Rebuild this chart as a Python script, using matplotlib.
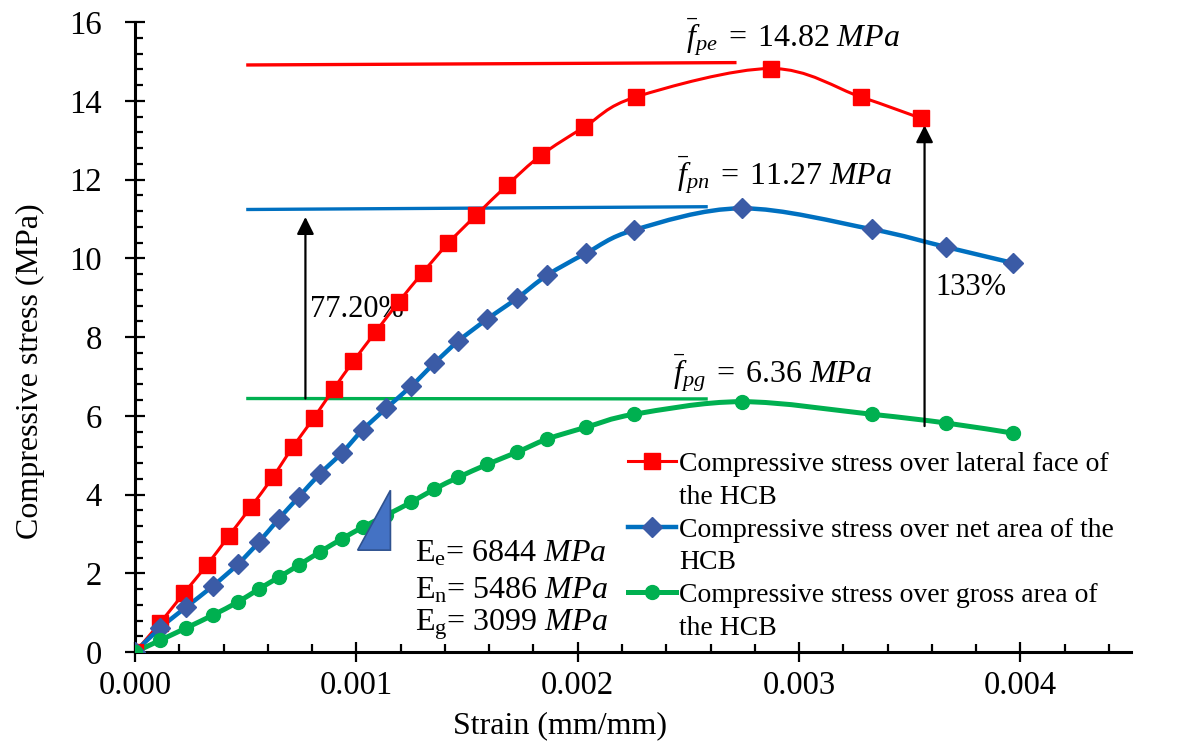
import numpy as np
import matplotlib
matplotlib.use("Agg")
import matplotlib.pyplot as plt
from matplotlib.path import Path
from matplotlib.patches import PathPatch
from matplotlib.lines import Line2D
from matplotlib.ticker import MultipleLocator, StrMethodFormatter

plt.rcParams['font.family'] = ['Liberation Serif', 'DejaVu Serif']
plt.rcParams['mathtext.fontset'] = 'custom'
plt.rcParams['mathtext.rm'] = 'Liberation Serif'
plt.rcParams['mathtext.it'] = 'Liberation Serif:italic'

# strain / stress readings
strain_e = [0, 0.000113, 0.000221, 0.000325, 0.000424, 0.000523, 0.000622, 0.000713,
            0.000807, 0.000897, 0.000987, 0.001087, 0.001191, 0.001299, 0.001416,
            0.001542, 0.001682, 0.001835, 0.002029, 0.002264, 0.002873, 0.003278, 0.003549]
stress_e = [0, 0.74, 1.50, 2.21, 2.95, 3.68, 4.44, 5.21, 5.94, 6.68, 7.39, 8.13, 8.89,
            9.63, 10.39, 11.10, 11.86, 12.62, 13.33, 14.10, 14.82, 14.10, 13.56]

strain_n = [0, 0.000113, 0.000230, 0.000352, 0.000464, 0.000559, 0.000649, 0.000740,
            0.000834, 0.000933, 0.001028, 0.001136, 0.001249, 0.001353, 0.001461,
            0.001592, 0.001727, 0.001862, 0.002038, 0.002255, 0.002742, 0.003328,
            0.003662, 0.003968]
stress_n = [0, 0.61, 1.14, 1.68, 2.23, 2.79, 3.38, 3.94, 4.52, 5.05, 5.64, 6.20, 6.76,
            7.34, 7.90, 8.46, 8.99, 9.57, 10.13, 10.72, 11.27, 10.74, 10.29, 9.88]
stress_g = [0, 0.30, 0.61, 0.94, 1.27, 1.60, 1.90, 2.21, 2.54, 2.87, 3.17, 3.48, 3.81,
            4.14, 4.44, 4.77, 5.08, 5.41, 5.71, 6.04, 6.36, 6.04, 5.82, 5.56]

labels = ["Compressive stress over lateral face of\nthe HCB",
          "Compressive stress over net area of the\nHCB",
          "Compressive stress over gross area of\nthe HCB"]

# peak reference lines
peak_x = [[0.00051, 0.00271], [0.00051, 0.00258], [0.00051, 0.00258]]
peak_y = [[14.91, 14.97], [11.24, 11.31], [6.44, 6.43]]
peak_text = [r"$\bar{f}_{pe}\;=\;14.82\ MPa$", r"$\bar{f}_{pn}\;=\;11.27\ MPa$",
             r"$\bar{f}_{pg}\;=\;6.36\ MPa$"]
peak_text_pos = [(0.00249, 15.62), (0.00245, 12.11), (0.00243, 7.09)]

modulus_text = [r"E$_{\rm e}$= 6844 $MPa$", r"E$_{\rm n}$= 5486 $MPa$",
                r"E$_{\rm g}$= 3099 $MPa$"]
modulus_y = [2.51, 1.57, 0.69]
tri_x = [0.001006, 0.001154, 0.001154]
tri_y = [2.59, 4.11, 2.59]

red = '#FF0000'
blue = '#0070C0'
blue_mk = '#3B5BA6'
green = '#00B050'


def smooth_path(x, y):
    pts = np.column_stack([x, y])
    n = len(pts)
    verts = [pts[0]]
    codes = [Path.MOVETO]
    for i in range(n - 1):
        p0 = pts[i - 1] if i > 0 else pts[i]
        p1 = pts[i]
        p2 = pts[i + 1]
        p3 = pts[i + 2] if i + 2 < n else pts[i + 1]
        verts += [p1 + (p2 - p0) / 6, p2 - (p3 - p1) / 6, p2]
        codes += [Path.CURVE4] * 3
    return Path(verts, codes)


fig = plt.figure(figsize=(12.02, 7.47), dpi=100)
ax = fig.add_axes([0.1123, 0.127, 0.8287, 0.8435])

series = [
    (strain_e, stress_e, red, 2.2, 's', red, 11.5),
    (strain_n, stress_n, blue, 3.2, 'D', blue_mk, 10),
    (strain_n, stress_g, green, 3.6, 'o', green, 10),
]
handles = []
for x, y, c, lw, mk, mc, ms in series:
    ax.add_patch(PathPatch(smooth_path(x, y), fill=False, edgecolor=c, lw=lw,
                           transform=ax.transData, zorder=3))
    ax.plot(x, y, linestyle='none', marker=mk, color=mc, markersize=ms, zorder=4)
    handles.append(Line2D([], [], color=c, lw=lw, marker=mk, markerfacecolor=mc,
                          markeredgecolor=mc, markersize=ms))

for px, py, c in zip(peak_x, peak_y, [red, blue, green]):
    ax.plot(px, py, color=c, lw=2.4, zorder=2)
for (tx, ty), t in zip(peak_text_pos, peak_text):
    ax.text(tx, ty, t, fontsize=23, va='center', ha='left')

# arrows
arrow = dict(arrowstyle='-|>', color='black', lw=1.6, mutation_scale=26,
             shrinkA=0, shrinkB=0)
ax.annotate('', xy=(0.00077, 11.05), xytext=(0.00077, 6.44), arrowprops=arrow)
ax.annotate('', xy=(0.003567, 13.38), xytext=(0.003567, 5.74), arrowprops=arrow)
ax.text(0.000789, 8.69, "77.20%", fontsize=22, va='center', ha='left')
ax.text(0.003617, 9.27, "133%", fontsize=22, va='center', ha='left')

ax.fill(tri_x, tri_y, facecolor='#4472C4', edgecolor='#2F528F', lw=1.2, zorder=5)
for t, yy in zip(modulus_text, modulus_y):
    ax.text(0.001267, yy, t, fontsize=23, va='center', ha='left')

# legend split into rows so the handle sits on the first line
leg_handles = []
leg_labels = []
for h, lab in zip(handles, labels):
    first, second = lab.split("\n")
    leg_handles += [h, Line2D([], [], linestyle='none')]
    leg_labels += [first, second]
ax.legend(leg_handles, leg_labels, loc='upper left', bbox_to_anchor=(0.495, 0.318),
          frameon=False, fontsize=20, handlelength=1.73, handletextpad=0.1,
          labelspacing=0.26, borderpad=0, borderaxespad=0)

ax.set_xlim(0, 0.0045)
ax.set_ylim(0, 16)
ax.xaxis.set_major_locator(MultipleLocator(0.001))
ax.xaxis.set_minor_locator(MultipleLocator(0.0002))
ax.yaxis.set_major_locator(MultipleLocator(2))
ax.yaxis.set_minor_locator(MultipleLocator(0.4))
ax.xaxis.set_major_formatter(StrMethodFormatter('{x:.3f}'))

for s in ['top', 'right']:
    ax.spines[s].set_visible(False)
for s in ['left', 'bottom']:
    ax.spines[s].set_linewidth(2.2)
ax.tick_params(which='major', direction='inout', length=14, width=1.6, labelsize=23.5)
ax.tick_params(axis='x', which='major', pad=6)
ax.tick_params(axis='y', which='major', pad=17)
ax.tick_params(which='minor', direction='in', length=6, width=1.6)

ax.set_xlabel("Strain (mm/mm)", fontsize=23)
ax.set_ylabel("Compressive stress (MPa)", fontsize=23)
ax.xaxis.set_label_coords(0.427, -0.094)
ax.yaxis.set_label_coords(-0.090, 0.446)

fig.savefig("out.png", dpi=100)
